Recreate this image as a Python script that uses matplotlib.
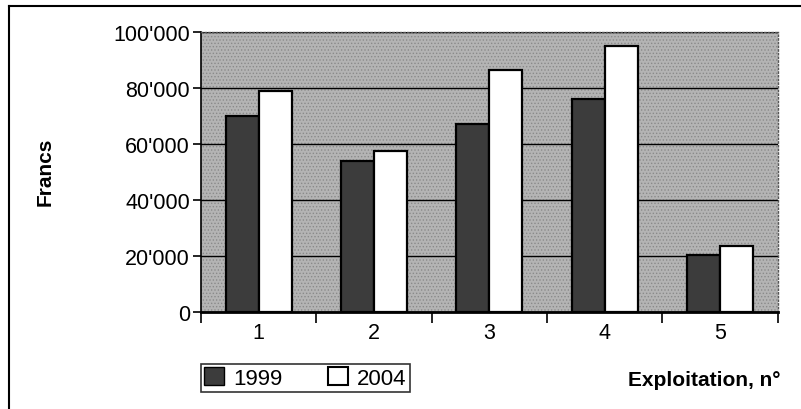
import numpy as np
import matplotlib
matplotlib.use('agg')
import matplotlib.pyplot as plt
from matplotlib.lines import Line2D
from matplotlib.patches import Patch, Rectangle
from matplotlib.ticker import FuncFormatter

plt.rcParams['font.family'] = ['Liberation Sans', 'DejaVu Sans']
plt.rcParams['hatch.linewidth'] = 0.6

# data
categories = ['1', '2', '3', '4', '5']
years = ['1999', '2004']
vals_1999 = [70000, 54000, 67000, 76000, 20500]
vals_2004 = [79000, 57500, 86500, 95000, 23500]
yticks = [0, 20000, 40000, 60000, 80000, 100000]

fig = plt.figure(figsize=(8.01, 4.10), dpi=100)
ax = fig.add_axes([0.251, 0.2366, 0.72, 0.683])

x = np.arange(1, len(categories) + 1)
w = 0.286

# stippled background
ax.set_facecolor('#b4b4b4')
ax.add_patch(Rectangle((0, 0), 1, 1, transform=ax.transAxes, facecolor='none',
                       edgecolor='#8a8a8a', hatch='.....', linewidth=0, zorder=0))

ax.set_axisbelow(True)
ax.grid(axis='y', color='black', linewidth=1.0)

ax.bar(x - w / 2, vals_1999, w, color='#3c3c3c', edgecolor='black', linewidth=1.6, zorder=3)
ax.bar(x + w / 2, vals_2004, w, color='white', edgecolor='black', linewidth=1.6, zorder=3)

ax.set_xlim(0.5, 5.5)
ax.set_ylim(0, 100000)
ax.set_yticks(yticks)
ax.yaxis.set_major_formatter(FuncFormatter(lambda v, p: ('%d' % v) if v < 1000 else
                                           ("%d'%03d" % (v // 1000, v % 1000))))
ax.set_xticks(x)
ax.set_xticklabels(categories)
ax.set_xticks(np.arange(0.5, 5.6, 1), minor=True)
ax.tick_params(axis='x', which='major', length=0, pad=7, labelsize=15.5)
ax.tick_params(axis='x', which='minor', length=8, width=1.2, direction='out')
ax.tick_params(axis='y', length=6, width=1.2, labelsize=15.5, pad=2)

for s in ['top', 'right']:
    ax.spines[s].set_color('#555555')
    ax.spines[s].set_linewidth(1.0)
    ax.spines[s].set_linestyle(':')
ax.spines['left'].set_linewidth(1.2)
ax.spines['bottom'].set_linewidth(2.0)

fig.text(0.056, 0.58, 'Francs', rotation=90, fontsize=15, fontweight='bold',
         ha='center', va='center')
fig.text(0.974, 0.073, 'Exploitation, n°', fontsize=15, fontweight='bold',
         ha='right', va='center')

handles = [Patch(facecolor='#3c3c3c', edgecolor='black', label=years[0]),
           Patch(facecolor='white', edgecolor='black', linewidth=1.5, label=years[1])]
leg = fig.legend(handles=handles, loc='lower left', bbox_to_anchor=(0.251, 0.041, 0.261, 0.08),
                 mode='expand', ncol=2, frameon=True, fancybox=False, fontsize=16,
                 handlelength=0.9, handleheight=0.9, handletextpad=0.4, borderpad=0.15,
                 columnspacing=2.5, borderaxespad=0)
leg.get_frame().set_edgecolor('black')
leg.get_frame().set_linewidth(1.2)

# outer frame lines (top and left)
fig.add_artist(Line2D([0.011, 1.0], [0.983, 0.983], color='black', linewidth=1.5))
fig.add_artist(Line2D([0.011, 0.011], [0.0, 0.983], color='black', linewidth=1.5))

plt.savefig('out.png', dpi=100)
plt.close()
